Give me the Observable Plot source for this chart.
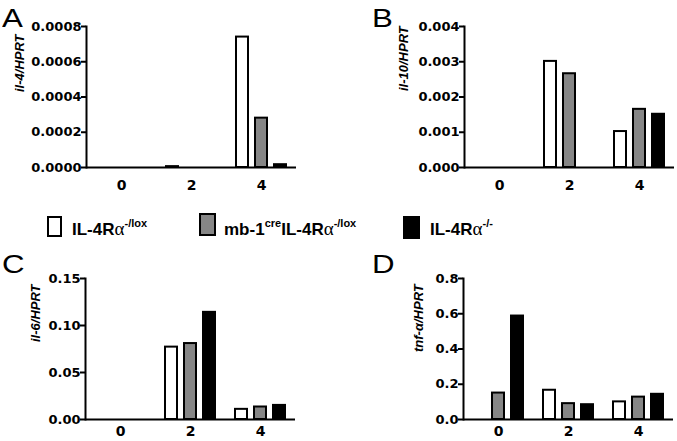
<!DOCTYPE html>
<html>
<head>
<meta charset="utf-8">
<script src="https://cdn.jsdelivr.net/npm/d3@7"></script>
<script src="https://cdn.jsdelivr.net/npm/@observablehq/plot@0.6"></script>
<style>
  body { margin: 0; background: #fff; }
  #root { position: relative; width: 677px; height: 441px; overflow: hidden; background: #fff; }
  .panel { position: absolute; }
  .letter { position: absolute; font-family: "Liberation Sans", Arial, sans-serif; font-size: 25px; line-height: 1; transform-origin: left top; transform: scaleX(1.25); }
  .lbox { position: absolute; box-sizing: border-box; border: 2px solid #000; }
  .ltext { position: absolute; font-family: "Liberation Sans", Arial, sans-serif; font-weight: bold; font-size: 17px; line-height: 1; white-space: nowrap; }
  .ltext .a { font-family: "Liberation Serif", "Times New Roman", serif; font-weight: normal; font-size: 19px; }
  .ltext sup { font-size: 11px; vertical-align: 0; position: relative; top: -8px; }
</style>
</head>
<body>
<div id="root"></div>
<script>
// ---- data ----
const times = [0, 2, 4];
const series = ["IL-4Rα-/lox", "mb-1creIL-4Rα-/lox", "IL-4Rα-/-"];
const seriesColors = ["#ffffff", "#868686", "#000000"];

const il4_flox = [0, 0.000005, 0.00074];
const il4_mb1 = [0, 0, 0.00028];
const il4_ko = [0, 0, 0.000016];

const il10_flox = [0, 0.00301, 0.00102];
const il10_mb1 = [0, 0.00266, 0.00165];
const il10_ko = [0, 0, 0.00151];

const il6_flox = [0, 0.077, 0.0108];
const il6_mb1 = [0, 0.0808, 0.0133];
const il6_ko = [0, 0.114, 0.0150];

const tnf_flox = [0, 0.166, 0.100];
const tnf_mb1 = [0.150, 0.090, 0.127];
const tnf_ko = [0.587, 0.084, 0.143];

const il4Ticks = [0, 0.0002, 0.0004, 0.0006, 0.0008];
const il10Ticks = [0, 0.001, 0.002, 0.003, 0.004];
const il6Ticks = [0, 0.05, 0.10, 0.15];
const tnfTicks = [0, 0.2, 0.4, 0.6, 0.8];

const letters = ["A", "B", "C", "D"];
const yLabels = ["il-4/HPRT", "il-10/HPRT", "il-6/HPRT", "tnf-α/HPRT"];

// ---- layout ----
const panels = [
  {values: [il4_flox, il4_mb1, il4_ko], ticks: il4Ticks, fmt: ".4f", label: yLabels[0], letter: letters[0],
   left: 0, top: 0, width: 337, height: 200, mL: 86, mR: 41, mT: 26, mB: 33, xPad: 13, ldx: -67, ldy: -5, lx: 2, ly: 6},
  {values: [il10_flox, il10_mb1, il10_ko], ticks: il10Ticks, fmt: ".3f", label: yLabels[1], letter: letters[1],
   left: 337, top: 0, width: 340, height: 200, mL: 126, mR: 3, mT: 26, mB: 33, xPad: 13, ldx: -61, ldy: -6, lx: 372, ly: 6},
  {values: [il6_flox, il6_mb1, il6_ko], ticks: il6Ticks, fmt: ".2f", label: yLabels[2], letter: letters[2],
   left: 0, top: 240, width: 337, height: 201, mL: 85, mR: 42, mT: 38, mB: 22, xPad: 7, ldx: -50, ldy: -7, lx: 2, ly: 252},
  {values: [tnf_flox, tnf_mb1, tnf_ko], ticks: tnfTicks, fmt: ".1f", label: yLabels[3], letter: letters[3],
   left: 337, top: 240, width: 340, height: 201, mL: 125, mR: 4, mT: 38, mB: 22, xPad: 7, ldx: -45, ldy: 3, lx: 372, ly: 252}
];

const root = document.getElementById("root");

for (const p of panels) {
  const rows = [];
  series.forEach((s, si) => times.forEach((t, ti) => rows.push({time: t, series: s, value: p.values[si][ti]})));
  const chart = Plot.plot({
    width: p.width, height: p.height,
    marginLeft: p.mL, marginRight: p.mR, marginTop: p.mT, marginBottom: p.mB,
    style: {fontFamily: "DejaVu Sans, sans-serif", fontWeight: "bold", fontSize: "13px", color: "#000", background: "transparent"},
    fx: {domain: times, padding: 0, label: null},
    x: {domain: series, paddingInner: 0.38, paddingOuter: 0.5, axis: null},
    y: {domain: [p.ticks[0], p.ticks[p.ticks.length - 1]], label: null},
    color: {domain: series, range: seriesColors},
    marks: [
      Plot.barY(rows, {fx: "time", x: "series", y: "value", fill: "series", stroke: "#000", strokeWidth: 2}),
      Plot.ruleY([0], {stroke: "#000", strokeWidth: 2}),
      Plot.frame({anchor: "left", facet: "super", stroke: "#000", strokeWidth: 2}),
      Plot.axisY(p.ticks, {tickFormat: d3.format(p.fmt), tickSize: 5, tickPadding: 0, strokeWidth: 2, label: null}),
      Plot.axisFx({anchor: "bottom", tickSize: 0, tickPadding: p.xPad, fontSize: 14, label: null}),
      Plot.text([p.label], {frameAnchor: "left", rotate: -90, dx: p.ldx, dy: p.ldy, facet: "super",
        fontStyle: "italic", fontWeight: "bold", fontSize: 13, fontFamily: "Liberation Sans, Arial, sans-serif", fill: "#000"})
    ]
  });
  chart.classList.add("panel");
  chart.style.left = p.left + "px";
  chart.style.top = p.top + "px";
  root.appendChild(chart);

  const L = document.createElement("div");
  L.className = "letter";
  L.textContent = p.letter;
  L.style.left = p.lx + "px";
  L.style.top = p.ly + "px";
  root.appendChild(L);
}

// ---- legend ----
const legendItems = [
  {box: [47, 216, 15, 21], text: [72, 219]},
  {box: [199, 213, 17, 23], text: [224, 219]},
  {box: [403, 216, 17, 23], text: [430, 219]}
];
function labelHTML(s) {
  const m = s.match(/^(mb-1)?(cre)?(IL-4R)(α)(.*)$/);
  return (m[1] ? m[1] : "") + (m[2] ? "<sup>" + m[2] + "</sup>" : "") + m[3] +
    '<span class="a">' + m[4] + "</span><sup>" + m[5] + "</sup>";
}
series.forEach((s, i) => {
  const it = legendItems[i];
  const b = document.createElement("div");
  b.className = "lbox";
  b.style.left = it.box[0] + "px"; b.style.top = it.box[1] + "px";
  b.style.width = it.box[2] + "px"; b.style.height = it.box[3] + "px";
  b.style.background = seriesColors[i];
  root.appendChild(b);
  const t = document.createElement("div");
  t.className = "ltext";
  t.style.left = it.text[0] + "px"; t.style.top = it.text[1] + "px";
  t.innerHTML = labelHTML(s);
  root.appendChild(t);
});
</script>
</body>
</html>
